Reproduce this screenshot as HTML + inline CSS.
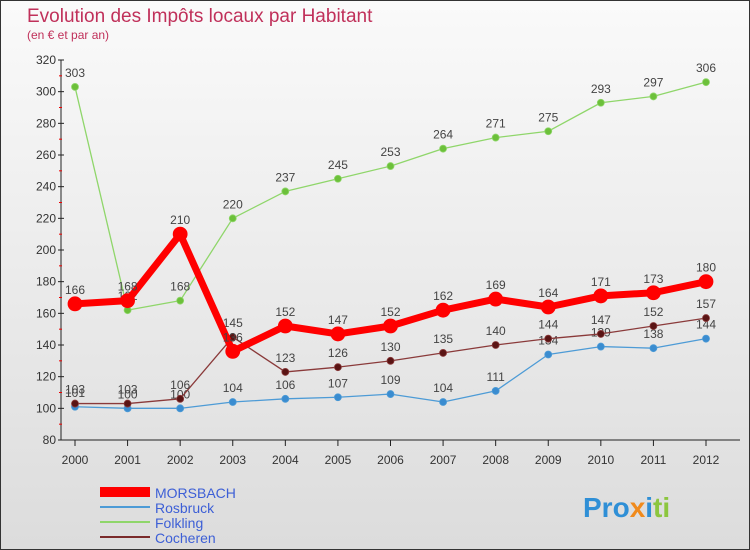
<!DOCTYPE html>
<html><head><meta charset="utf-8"><style>
body{margin:0;width:750px;height:550px;overflow:hidden;font-family:"Liberation Sans",sans-serif}
#wrap{position:absolute;left:0;top:0;width:748px;height:548px;border:1px solid #333;background:linear-gradient(#fafafa,#dcdcdc)}
</style></head><body>
<div id="wrap">
<svg id="chart" width="750" height="550" style="position:absolute;left:-1px;top:-1px">
<text x="27" y="22" font-size="19" fill="#c0305a">Evolution des Impôts locaux par Habitant</text>
<text x="27" y="39" font-size="12" fill="#c0305a">(en € et par an)</text>
<g id="axes"></g><g id="series"></g>
<g>
<rect x="100" y="487" width="50" height="10" fill="#ff0000"/>
<text x="155" y="498" font-size="14" fill="#3d5fd6">MORSBACH</text>
<rect x="100" y="506" width="50" height="2" fill="#4d9bd6"/>
<text x="155" y="513" font-size="14" fill="#3d5fd6">Rosbruck</text>
<rect x="100" y="521" width="50" height="2" fill="#8fd66a"/>
<text x="155" y="528" font-size="14" fill="#3d5fd6">Folkling</text>
<rect x="100" y="536" width="50" height="2" fill="#7a2a2a"/>
<text x="155" y="543" font-size="14" fill="#3d5fd6">Cocheren</text>
</g>
<text x="583" y="517" font-size="28" font-weight="bold"><tspan fill="#2f8fd6">Pro</tspan><tspan fill="#f08a1c">x</tspan><tspan fill="#2f8fd6">i</tspan><tspan fill="#8cc63f">ti</tspan></text>
</svg></div>
<script>
const years=["2000","2001","2002","2003","2004","2005","2006","2007","2008","2009","2010","2011","2012"];
const yTicks=[80,100,120,140,160,180,200,220,240,260,280,300,320];
const morsbach=[166,168,210,136,152,147,152,162,169,164,171,173,180];
const rosbruck=[101,100,100,104,106,107,109,104,111,134,139,138,144];
const folkling=[303,162,168,220,237,245,253,264,271,275,293,297,306];
const cocheren=[103,103,106,145,123,126,130,135,140,144,147,152,157];
const NS="http://www.w3.org/2000/svg";
const X=i=>75+i*(706-75)/(years.length-1);
const Y=v=>440-(v-80)*(380/240);
function mk(t,a,p){const e=document.createElementNS(NS,t);for(const k in a)e.setAttribute(k,a[k]);p.appendChild(e);return e;}
const ax=document.getElementById('axes');
const yl=mk('line',{x1:61,y1:60,x2:61,y2:440,stroke:'#222'},ax);


const xl=mk('line',{x1:61,y1:440,x2:740,y2:440,stroke:'#222'},ax);


yTicks.forEach(v=>{
 const t=mk('text',{x:56,y:Y(v)+4,'font-size':12,fill:'#333','text-anchor':'end'},ax);t.textContent=v;
 
 
 mk('line',{x1:58,y1:Y(v),x2:64,y2:Y(v),stroke:'#222'},ax);
 if(v<320)mk('line',{x1:59,y1:Y(v+10),x2:62,y2:Y(v+10),stroke:'#e00'},ax);
});
years.forEach((y,i)=>{
 const t=mk('text',{x:X(i),y:464,'font-size':12,fill:'#333','text-anchor':'middle'},ax);t.textContent=y;
 
 
 mk('line',{x1:X(i),y1:440,x2:X(i),y2:446,stroke:'#222'},ax);
});
const sg=document.getElementById('series');
function draw(data,name,color,w,r,dot){
 const g=mk('g',{},sg);
 
 
 const pl=mk('polyline',{points:data.map((v,i)=>X(i)+','+Y(v)).join(' '),fill:'none',stroke:color,'stroke-width':w,'stroke-linejoin':'round'},g);
 
 
 data.forEach((v,i)=>{
  const c=mk('circle',{cx:X(i),cy:Y(v),r:r,fill:dot,stroke:color,'stroke-width':0.8},g);
  
  
  const t=mk('text',{x:X(i),y:Y(v)-10,'font-size':12,fill:'#444','text-anchor':'middle'},g);t.textContent=v;
  
  
 });
}
draw(folkling,'folkling','#8fd66a',1.3,3.5,'#6cc03a');
draw(rosbruck,'rosbruck','#4d9bd6',1.3,3.5,'#3a8cd0');
draw(cocheren,'cocheren','#8a3a3a',1.3,3.5,'#5a1414');
draw(morsbach,'morsbach','#ff0000',7,7,'#ff0000');
</script>
</body></html>
